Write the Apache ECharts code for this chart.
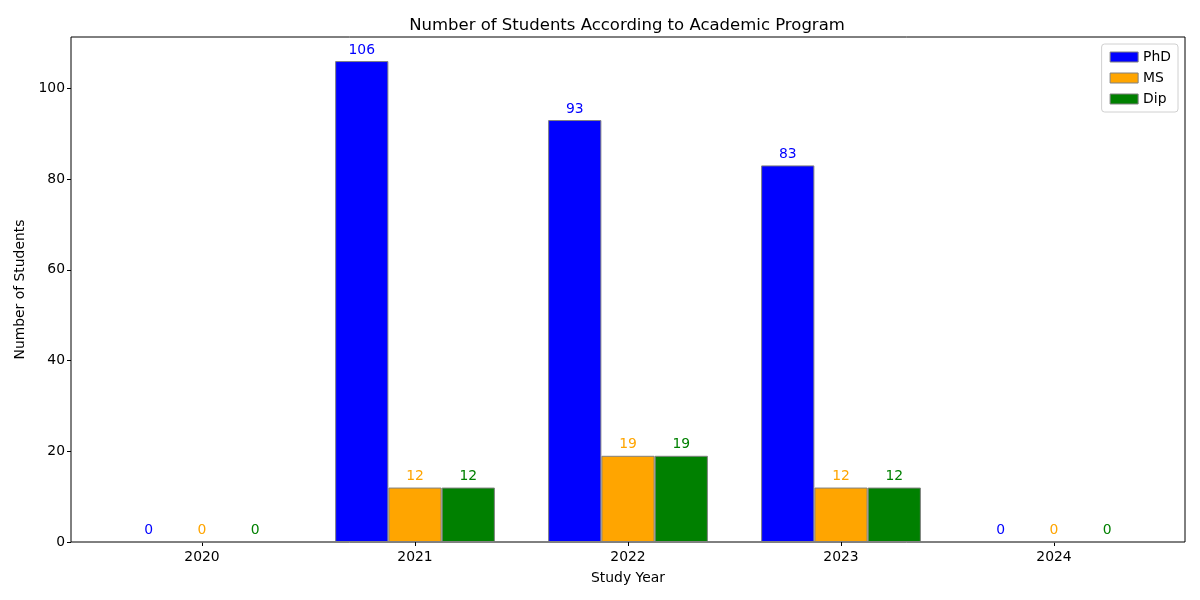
<!DOCTYPE html>
<html><head><meta charset="utf-8">
<script src="https://cdn.jsdelivr.net/npm/echarts@6/dist/echarts.min.js"></script>
<style>html,body{margin:0;padding:0;background:#fff}#c{width:1200px;height:600px}</style>
</head><body><div id="c"></div>
<script>
const years = ['2020', '2021', '2022', '2023', '2024'];
const phd = [0, 106, 93, 83, 0];
const ms = [0, 12, 19, 12, 0];
const dip = [0, 12, 19, 12, 0];
const seriesNames = ['PhD', 'MS', 'Dip'];
const seriesColors = ['#0000ff', '#ffa500', '#008000'];
const yTicks = [0, 20, 40, 60, 80, 100];

const font = 'DejaVu Sans';
const fs = 13.9;
const chart = echarts.init(document.getElementById('c'), null, {renderer: 'canvas'});
const mk = (name, data, color) => ({
  name, type: 'bar', data, xAxisIndex: 1, yAxisIndex: 1,
  barWidth: 53.25, barGap: '0%',
  itemStyle: {color, borderColor: '#808080', borderWidth: 1},
  label: {show: true, position: 'top', distance: 4, color, fontFamily: font, fontSize: fs},
  emphasis: {disabled: true}
});
chart.setOption({
  animation: false,
  backgroundColor: '#fff',
  title: {text: 'Number of Students According to Academic Program', left: 622, textAlign: 'center', top: 12,
    textStyle: {fontFamily: font, fontSize: 16.5, fontWeight: 'normal', color: '#000'}},
  legend: {
    orient: 'vertical', right: 22, top: 44, data: seriesNames,
    icon: 'rect', itemWidth: 28, itemHeight: 10, itemGap: 7,
    borderColor: '#d0d0d0', borderWidth: 1, borderRadius: 3, padding: [6, 7, 6, 8],
    backgroundColor: '#fff',
    textStyle: {fontFamily: font, fontSize: fs, color: '#000'},
    itemStyle: {borderColor: '#808080', borderWidth: 1}
  },
  grid: [
    {left: 71, right: 15, top: 37, bottom: 58, show: true, borderColor: '#000', borderWidth: 1, backgroundColor: 'transparent'},
    {left: 95.5, right: 39.5, top: 37, bottom: 58}
  ],
  xAxis: [
    {type: 'value', gridIndex: 0, show: false, min: 0, max: 1},
    {type: 'category', gridIndex: 1, data: years,
      name: 'Study Year', nameLocation: 'middle', nameGap: 29,
      nameTextStyle: {fontFamily: font, fontSize: fs, color: '#000'},
      axisLine: {show: false}, axisTick: {show: true, alignWithLabel: true, length: 4, lineStyle: {color: '#000'}},
      axisLabel: {fontFamily: font, fontSize: fs, color: '#000', margin: 8},
      splitLine: {show: false}}
  ],
  yAxis: [
    {type: 'value', gridIndex: 0, show: false, min: 0, max: 1},
    {type: 'value', gridIndex: 1, min: 0, max: 111.3, interval: 20, offset: 24.5,
      name: 'Number of Students', nameLocation: 'middle', nameGap: 44, nameRotate: 90,
      nameTextStyle: {fontFamily: font, fontSize: fs, color: '#000'},
      axisLine: {show: false},
      axisTick: {show: true, length: 4, lineStyle: {color: '#000'}, customValues: yTicks},
      axisLabel: {fontFamily: font, fontSize: fs, color: '#000', margin: 6, customValues: yTicks},
      splitLine: {show: false}}
  ],
  series: [
    mk(seriesNames[0], phd, seriesColors[0]),
    mk(seriesNames[1], ms, seriesColors[1]),
    mk(seriesNames[2], dip, seriesColors[2])
  ]
});
</script></body></html>
